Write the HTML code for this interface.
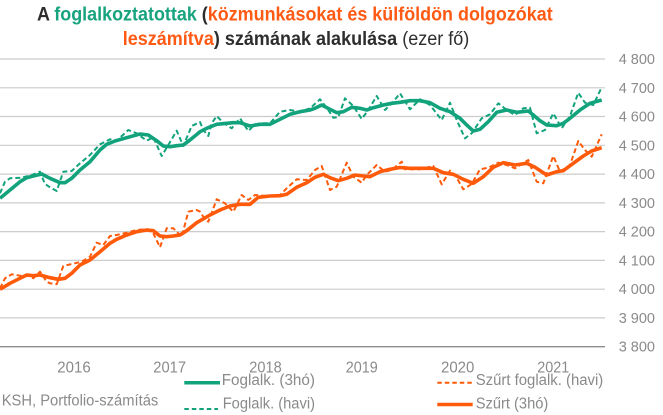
<!DOCTYPE html>
<html><head><meta charset="utf-8"><style>
html,body{margin:0;padding:0;background:#fff;}
svg{display:block;}
</style></head><body>
<svg width="663" height="415" viewBox="0 0 663 415" xmlns="http://www.w3.org/2000/svg">
<rect width="663" height="415" fill="#fff"/>
<g font-family="'Liberation Sans Narrow','Liberation Sans',sans-serif" font-weight="bold" font-size="19">
<text x="37" y="20.5" textLength="515.7" lengthAdjust="spacingAndGlyphs"><tspan fill="#2d2d2d">A </tspan><tspan fill="#17a37e">foglalkoztatottak</tspan><tspan fill="#2d2d2d"> (</tspan><tspan fill="#ff5a14">közmunkásokat és külföldön dolgozókat</tspan></text>
<text x="122.7" y="45" textLength="346.6" lengthAdjust="spacingAndGlyphs"><tspan fill="#ff5a14">leszámítva</tspan><tspan fill="#2d2d2d">) számának alakulása </tspan><tspan fill="#2d2d2d" font-weight="normal">(ezer fő)</tspan></text>
</g>
<g stroke="#cccccc" stroke-width="1.2">
<line x1="0" y1="59" x2="605" y2="59"/>
<line x1="0" y1="87.8" x2="605" y2="87.8"/>
<line x1="0" y1="116.5" x2="605" y2="116.5"/>
<line x1="0" y1="145.3" x2="605" y2="145.3"/>
<line x1="0" y1="174.1" x2="605" y2="174.1"/>
<line x1="0" y1="202.9" x2="605" y2="202.9"/>
<line x1="0" y1="231.6" x2="605" y2="231.6"/>
<line x1="0" y1="260.4" x2="605" y2="260.4"/>
<line x1="0" y1="289.2" x2="605" y2="289.2"/>
<line x1="0" y1="317.9" x2="605" y2="317.9"/>
</g>
<line x1="0" y1="346.7" x2="605" y2="346.7" stroke="#8c8c8c" stroke-width="1.3"/>
<g font-family="'Liberation Sans Narrow','Liberation Sans',sans-serif" font-size="14.5" fill="#8a8a8a" text-anchor="end">
<text x="655" y="64">4 800</text>
<text x="655" y="92.8">4 700</text>
<text x="655" y="121.5">4 600</text>
<text x="655" y="150.3">4 500</text>
<text x="655" y="179.1">4 400</text>
<text x="655" y="207.9">4 300</text>
<text x="655" y="236.6">4 200</text>
<text x="655" y="265.4">4 100</text>
<text x="655" y="294.2">4 000</text>
<text x="655" y="322.9">3 900</text>
<text x="655" y="351.7">3 800</text>
</g>
<g font-family="'Liberation Sans Narrow','Liberation Sans',sans-serif" font-size="16" fill="#8a8a8a">
<text x="57.3" y="372.3" textLength="33.4" lengthAdjust="spacingAndGlyphs">2016</text>
<text x="153.3" y="372.3" textLength="32.7" lengthAdjust="spacingAndGlyphs">2017</text>
<text x="249.3" y="372.3" textLength="32.4" lengthAdjust="spacingAndGlyphs">2018</text>
<text x="345.7" y="372.3" textLength="32" lengthAdjust="spacingAndGlyphs">2019</text>
<text x="441" y="372.3" textLength="33.3" lengthAdjust="spacingAndGlyphs">2020</text>
<text x="537.3" y="372.3" textLength="32" lengthAdjust="spacingAndGlyphs">2021</text>
</g>
<g font-family="'Liberation Sans Narrow','Liberation Sans',sans-serif" font-size="15.5" fill="#8a8a8a">
<text x="1.7" y="405.5" textLength="156.6" lengthAdjust="spacingAndGlyphs">KSH, Portfolio-számítás</text>
<text x="221.7" y="385" textLength="93.3" lengthAdjust="spacingAndGlyphs">Foglalk. (3hó)</text>
<text x="222.7" y="408.3" textLength="92.3" lengthAdjust="spacingAndGlyphs">Foglalk. (havi)</text>
<text x="475.7" y="385" textLength="127.6" lengthAdjust="spacingAndGlyphs">Szűrt foglalk. (havi)</text>
<text x="475.7" y="408.3" textLength="72.6" lengthAdjust="spacingAndGlyphs">Szűrt (3hó)</text>
</g>
<line x1="184.3" y1="382.7" x2="220" y2="382.7" stroke="#12a37c" stroke-width="3.5"/>
<line x1="184.3" y1="409" x2="218" y2="409" stroke="#12a37c" stroke-width="2" stroke-dasharray="4.5,3"/>
<line x1="437.3" y1="382.7" x2="472.7" y2="382.7" stroke="#ff5a0a" stroke-width="2" stroke-dasharray="4.5,3"/>
<line x1="437.3" y1="404.5" x2="472.7" y2="404.5" stroke="#ff5a0a" stroke-width="3.5"/>
<g fill="none" stroke-linejoin="round" stroke-linecap="butt">
<polyline stroke="#12a37c" stroke-width="2" stroke-dasharray="5,3" points="0,193.3 5,181.7 10,178.3 20,177.7 30,175.7 40,171.7 45,184 50,187.3 56.7,191 63.3,171.7 71.7,171 80,163.3 90,155 100,144.3 110,139.3 116.7,140.7 128.3,130 136.7,133.3 146.7,140.7 153.3,137.3 161.7,156 168.3,145 176.7,130.7 183.3,146 191.7,126 200,122 203.3,130 208.3,136 211.7,123.3 216.7,116 223.3,122.7 231.7,128.3 240,118.3 248.3,131 255,124.3 261.7,123.3 270,123.3 280,111.7 290,110 300,111.7 310,108.3 320,99.3 326.7,107.7 333.3,117.7 338.3,117.3 345,98.3 353.3,106 361.7,119 368.3,110 376.7,96 385,110 393.3,101.7 400,93.3 410,109.3 420,99.3 430,105 441.7,120 450,102.7 456.7,120 465,138.3 471.7,133.3 481.7,118.3 490,114.3 498.3,103.3 506.7,110 515,115 523.3,108.3 530,107.7 536.7,133.3 545,130 553.3,113.3 561.7,128.3 570,116 578.3,92.7 585,102.7 593.3,105 601.7,87.3"/>
<polyline stroke="#ff5a0a" stroke-width="2" stroke-dasharray="5,3" points="0,288.3 5,278.3 11.7,274.3 20,275.7 30,276 33.3,278.3 40,271.7 46.7,281.7 50,283.3 56.7,284.3 63.3,266 71.7,264 81.7,261.7 90,256.7 96.7,242.7 103.3,245 110,236 116.7,235 126.7,232.7 136.7,230 146.7,229.3 153.3,233.3 160,247.3 166.7,228.3 173.3,228.3 181.7,236.7 188.3,211.7 196.7,210 200,211.7 203.3,216.7 208.3,221.7 216.7,199.3 225,203.3 233.3,211.7 241.7,195 248.3,200 255,195 266.7,196 280,195 288.3,186.7 296.7,179.3 306.7,180 315,170 321.7,166 330,190 336.7,186.7 346.7,162.7 353.3,176.7 361.7,182.7 366.7,175 376.7,165 385,171.7 391.7,170 401.7,161.7 405,169.3 420,169.3 433.3,166 441.7,184.3 450,170.7 455,175 463.3,189.3 471.7,184 480,169.3 488.3,167.7 498.3,162.7 506.7,165 515,168.3 528.3,160 536.7,181.7 543.3,183.3 553.3,156 560,171.7 570,165 578.3,141 585,150 591.7,156.7 601.7,134.3"/>
<polyline stroke="#12a37c" stroke-width="3.6" points="0,198.3 10,190 20,181.7 26.7,177.7 33.3,176 41.7,174 50,178.3 60,182.7 65,182.7 71.7,178.3 80,170 90,161.7 100,150 106.7,144.3 115,141 126.7,137.7 140,134 148.3,135 156.7,140.7 163.3,146 170,146.7 176.7,145.7 183.3,145 190,140 200,131.7 206.7,128.3 216.7,124.3 226.7,123.3 233.3,122.7 240,122.7 250,126 260,124.3 270,124.3 280,119.3 290,114.3 300,111.7 310,110 315,108.3 321.7,105 330,109.3 336.7,112.7 343.3,111.7 351.7,107.3 360,108.3 366.7,110 373.3,107.7 383.3,105 391.7,103.3 400,102.3 410,100.7 420,100.7 430,102.7 440,108.3 450,111.7 460,118.3 466.7,125 473.3,131 480,129.3 488.3,121.7 496.7,112.3 506.7,110 516.7,112.3 528.3,111 533.3,115 540,120.7 546.7,125 556.7,125.7 563.3,123.3 570,118.3 580,110 590,103.3 601.7,100"/>
<polyline stroke="#ff5a0a" stroke-width="3.6" points="0,289.3 10,283.3 20,278.3 26.7,275 33.3,275.7 40,275 50,277.7 58.3,279.3 65,278.3 71.7,273.3 80,265 90,260 100,251.7 110,243.3 116.7,239.3 126.7,235 136.7,231.7 146.7,230 153.3,230.7 160,236 166.7,236.7 173.3,236 180,235 186.7,230.7 196.7,222.7 210,215 220,210 230,206 240,204.3 250,204.3 258.3,197.3 270,196 280,195.7 286.7,194.3 296.7,187.3 306.7,182.7 315,177.3 323.3,174.3 330,177.7 338.3,180.7 346.7,178.3 355,175 363.3,176 370,176.7 380,171.7 390,169.3 400,167.5 410,168.3 420,168.3 433.3,168.3 443.3,172.7 453.3,174.3 463.3,179.3 473.3,183.3 483.3,176.7 493.3,167.3 503.3,162.7 515,165 526.7,163.3 535,167.3 546.7,175 556.7,171.7 563.3,170.7 573.3,163.3 583.3,156 591.7,151 601.7,147.7"/>
</g>
</svg>
</body></html>
